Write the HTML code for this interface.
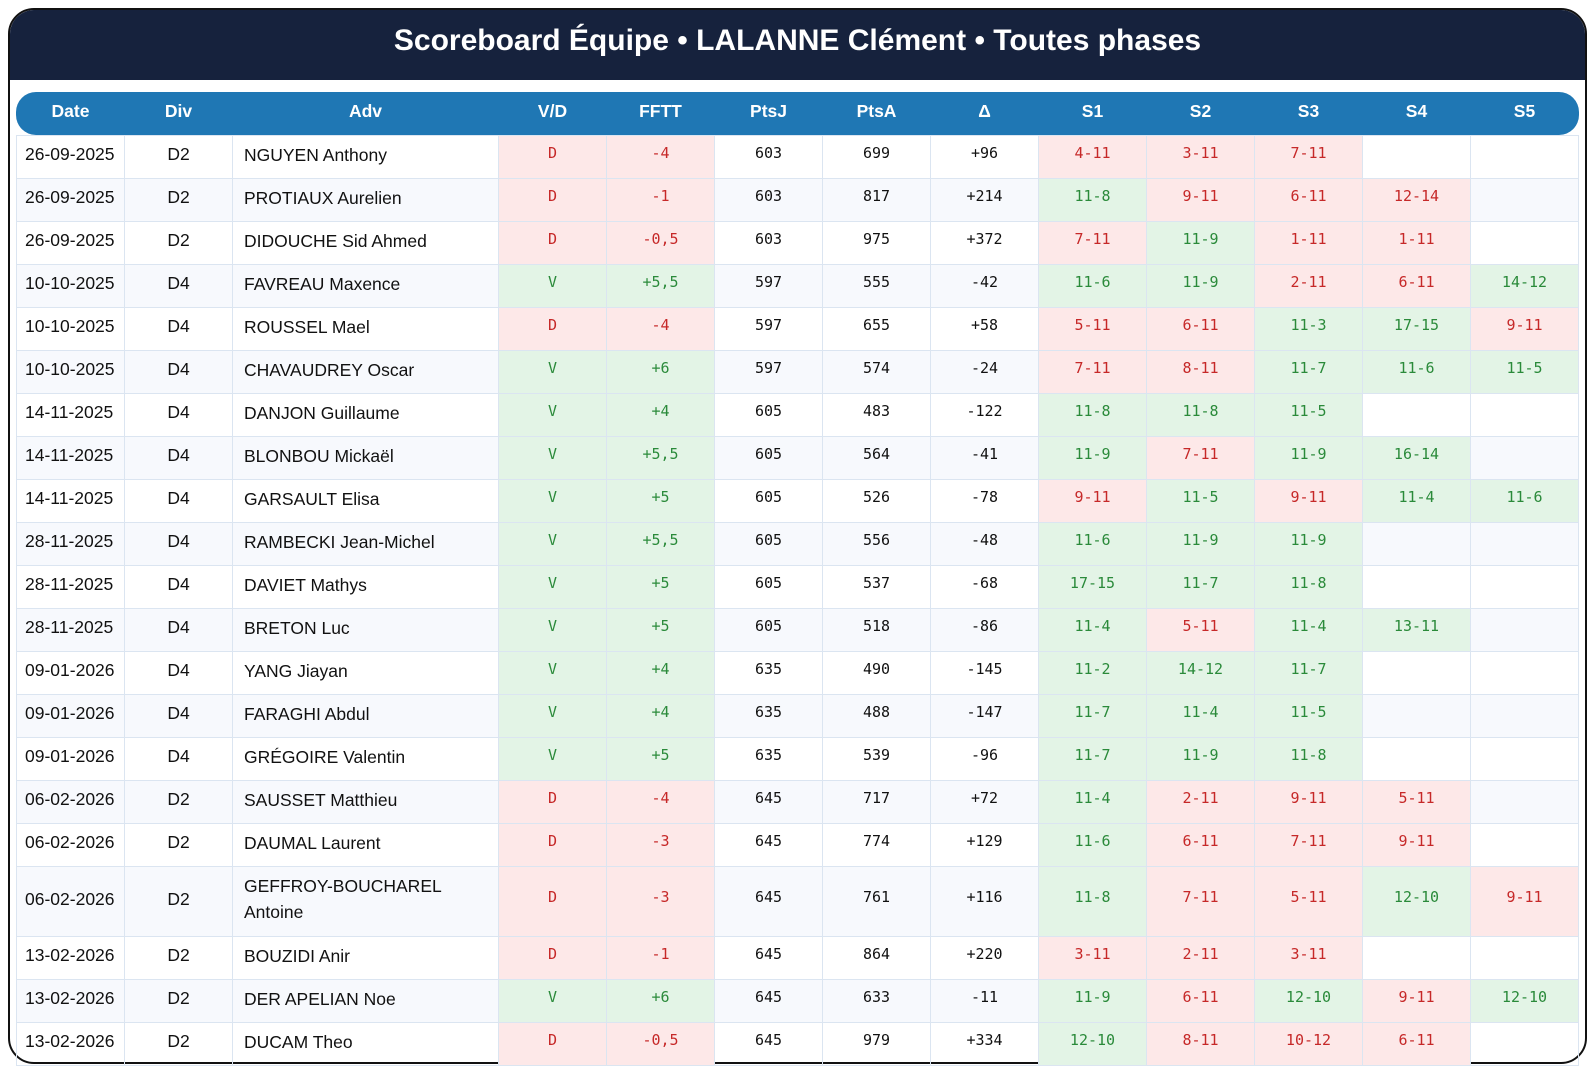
<!DOCTYPE html>
<html><head><meta charset="utf-8"><style>
*{box-sizing:border-box;margin:0;padding:0}
body{width:1594px;height:1072px;background:#fff;position:relative;overflow:hidden;font-family:"Liberation Sans",sans-serif}
#frame{position:absolute;left:8px;top:8px;width:1579px;height:1056px;border:2px solid #111;border-radius:26px;overflow:hidden}
#title{position:absolute;left:0;top:0;width:100%;height:70px;background:#16223d;color:#fff;font-weight:bold;font-size:30px;text-align:center;line-height:62px}
#hdr{position:absolute;left:16px;top:92px;width:1563px;height:43px;background:#1f77b4;border-radius:20px}
table{position:absolute;left:16px;top:92px;width:1563px;border-collapse:collapse;table-layout:fixed}
th{height:43px;color:#fff;font-weight:bold;font-size:17.5px;text-align:center;padding-bottom:4px}
td{height:43px;border:1px solid #dbe5f1;font-size:17.5px;color:#111;text-align:center;padding-bottom:4px}
tr.s td{background:#f7f9fd}
td.l{text-align:left;padding-left:8px}
td.a{text-align:left;padding-left:11px;line-height:26px}
td.m{font-family:"DejaVu Sans Mono",monospace;font-size:15px;padding-bottom:8px}
tr td.g{background:#e3f4e6;color:#2a8a3a}
tr td.r{background:#fde8e8;color:#c62828}
tr.t td{height:70px}
</style></head><body>
<div id="frame"><div id="title">Scoreboard Équipe • LALANNE Clément • Toutes phases</div></div>
<div id="hdr"></div>
<table id="t">
<colgroup><col style="width:108px"><col style="width:108px"><col style="width:266px"><col span="10" style="width:108px"></colgroup>
<tr><th>Date</th><th>Div</th><th>Adv</th><th>V/D</th><th>FFTT</th><th>PtsJ</th><th>PtsA</th><th>Δ</th><th>S1</th><th>S2</th><th>S3</th><th>S4</th><th>S5</th></tr>
</table>
<script>
var D=[
["26-09-2025","D2","NGUYEN Anthony","D","-4","603","699","+96",["4-11","3-11","7-11"]],
["26-09-2025","D2","PROTIAUX Aurelien","D","-1","603","817","+214",["11-8","9-11","6-11","12-14"]],
["26-09-2025","D2","DIDOUCHE Sid Ahmed","D","-0,5","603","975","+372",["7-11","11-9","1-11","1-11"]],
["10-10-2025","D4","FAVREAU Maxence","V","+5,5","597","555","-42",["11-6","11-9","2-11","6-11","14-12"]],
["10-10-2025","D4","ROUSSEL Mael","D","-4","597","655","+58",["5-11","6-11","11-3","17-15","9-11"]],
["10-10-2025","D4","CHAVAUDREY Oscar","V","+6","597","574","-24",["7-11","8-11","11-7","11-6","11-5"]],
["14-11-2025","D4","DANJON Guillaume","V","+4","605","483","-122",["11-8","11-8","11-5"]],
["14-11-2025","D4","BLONBOU Mickaël","V","+5,5","605","564","-41",["11-9","7-11","11-9","16-14"]],
["14-11-2025","D4","GARSAULT Elisa","V","+5","605","526","-78",["9-11","11-5","9-11","11-4","11-6"]],
["28-11-2025","D4","RAMBECKI Jean-Michel","V","+5,5","605","556","-48",["11-6","11-9","11-9"]],
["28-11-2025","D4","DAVIET Mathys","V","+5","605","537","-68",["17-15","11-7","11-8"]],
["28-11-2025","D4","BRETON Luc","V","+5","605","518","-86",["11-4","5-11","11-4","13-11"]],
["09-01-2026","D4","YANG Jiayan","V","+4","635","490","-145",["11-2","14-12","11-7"]],
["09-01-2026","D4","FARAGHI Abdul","V","+4","635","488","-147",["11-7","11-4","11-5"]],
["09-01-2026","D4","GRÉGOIRE Valentin","V","+5","635","539","-96",["11-7","11-9","11-8"]],
["06-02-2026","D2","SAUSSET Matthieu","D","-4","645","717","+72",["11-4","2-11","9-11","5-11"]],
["06-02-2026","D2","DAUMAL Laurent","D","-3","645","774","+129",["11-6","6-11","7-11","9-11"]],
["06-02-2026","D2","GEFFROY-BOUCHAREL<br>Antoine","D","-3","645","761","+116",["11-8","7-11","5-11","12-10","9-11"]],
["13-02-2026","D2","BOUZIDI Anir","D","-1","645","864","+220",["3-11","2-11","3-11"]],
["13-02-2026","D2","DER APELIAN Noe","V","+6","645","633","-11",["11-9","6-11","12-10","9-11","12-10"]],
["13-02-2026","D2","DUCAM Theo","D","-0,5","645","979","+334",["12-10","8-11","10-12","6-11"]]];
var h="";
D.forEach(function(r,i){
 var c=r[3]=="V"?"g":"r";
 var cls=(i%2?"s":"")+(i==17?" t":"");
 h+='<tr class="'+cls+'"><td class="l">'+r[0]+'</td><td>'+r[1]+'</td><td class="a">'+r[2]+'</td><td class="m '+c+'">'+r[3]+'</td><td class="m '+c+'">'+r[4]+'</td><td class="m">'+r[5]+'</td><td class="m">'+r[6]+'</td><td class="m">'+r[7]+'</td>';
 for(var k=0;k<5;k++){var s=r[8][k];if(s){var p=s.split("-");var w=+p[0]>+p[1]?"g":"r";h+='<td class="m '+w+'">'+s+'</td>';}else h+='<td class="m"></td>';}
 h+='</tr>';
});
document.getElementById("t").insertAdjacentHTML("beforeend",h);
</script>
</body></html>
